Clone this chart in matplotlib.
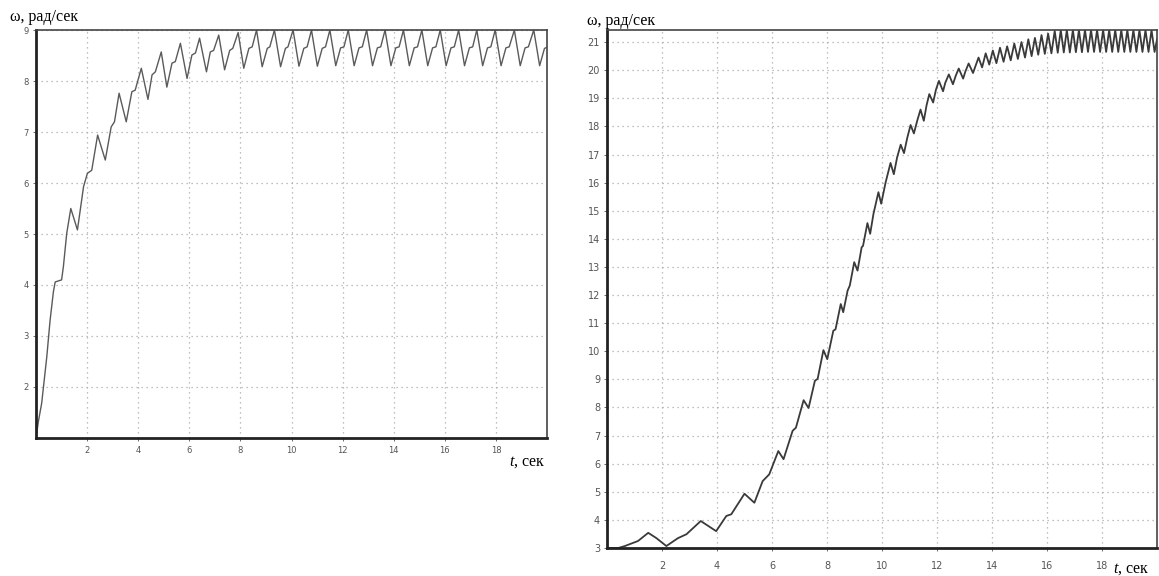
'''plot.py

   Two speed transients, omega(t), scanned-style chart.
'''

import numpy as np
import matplotlib
matplotlib.use('Agg')
import matplotlib.pyplot as plt


plt.rcParams['mathtext.fontset'] = 'custom'
plt.rcParams['mathtext.it'] = 'Liberation Serif:italic'
plt.rcParams['mathtext.rm'] = 'Liberation Serif'


#
#  Data.
#
# Left chart: start-up transient, then steady ripple.
t_left = [0.0, 0.09, 0.22, 0.42, 0.55, 0.68, 0.75, 1.0, 1.07, 1.2,
          1.36, 1.62, 1.86, 2.01, 2.18, 2.41, 2.71, 2.94, 3.07, 3.25,
          3.53, 3.75, 3.88, 4.12, 4.38, 4.54, 4.67, 4.9, 5.12, 5.32,
          5.45, 5.65, 5.91, 6.1, 6.24, 6.4, 6.67, 6.82, 6.95, 7.15,
          7.38, 7.58, 7.7, 7.91, 8.13, 8.33, 8.46, 8.63, 8.85, 9.05,
          9.15, 9.33, 9.57, 9.76, 9.86, 10.06, 10.29, 10.48, 10.61, 10.78,
          11.01, 11.2, 11.33, 11.5, 11.73, 11.92, 12.05, 12.22, 12.45, 12.64,
          12.77, 12.94, 13.17, 13.36, 13.49, 13.66, 13.89, 14.08, 14.21, 14.38,
          14.61, 14.8, 14.93, 15.1, 15.33, 15.52, 15.65, 15.82, 16.05, 16.24,
          16.37, 16.54, 16.77, 16.96, 17.09, 17.25, 17.48, 17.67, 17.8, 17.97,
          18.2, 18.39, 18.52, 18.72, 18.95, 19.14, 19.27, 19.48, 19.71, 19.9,
          20.0]
w_left = [1.0, 1.32, 1.68, 2.59, 3.31, 3.87, 4.06, 4.1, 4.36, 5.01,
          5.5, 5.08, 5.93, 6.19, 6.25, 6.94, 6.45, 7.1, 7.2, 7.76,
          7.2, 7.79, 7.82, 8.25, 7.64, 8.12, 8.18, 8.57, 7.88, 8.35,
          8.38, 8.74, 8.05, 8.51, 8.55, 8.84, 8.18, 8.57, 8.6, 8.9,
          8.22, 8.6, 8.64, 8.95, 8.25, 8.64, 8.67, 9.0, 8.28, 8.64,
          8.67, 9.0, 8.28, 8.64, 8.67, 9.0, 8.29, 8.64, 8.67, 9.0,
          8.29, 8.64, 8.67, 9.0, 8.3, 8.65, 8.67, 9.0, 8.3, 8.65,
          8.67, 9.0, 8.3, 8.65, 8.67, 9.0, 8.3, 8.65, 8.67, 9.0,
          8.3, 8.65, 8.67, 9.0, 8.3, 8.65, 8.67, 9.0, 8.3, 8.65,
          8.67, 9.0, 8.3, 8.65, 8.67, 9.0, 8.3, 8.65, 8.67, 9.0,
          8.3, 8.65, 8.67, 9.0, 8.3, 8.65, 8.67, 9.0, 8.3, 8.64,
          8.66]

# Right chart: slow run-up with ripple getting faster.
t_right = [0.0, 0.41, 0.65, 1.13, 1.5, 1.8, 2.16, 2.58, 2.89, 3.41,
           3.97, 4.34, 4.52, 5.0, 5.36, 5.66, 5.9, 6.23, 6.42, 6.75,
           6.87, 7.15, 7.33, 7.56, 7.66, 7.87, 8.01, 8.23, 8.31, 8.5,
           8.59, 8.75, 8.83, 8.99, 9.11, 9.26, 9.31, 9.47, 9.57, 9.69,
           9.87, 9.97, 10.13, 10.31, 10.43, 10.55, 10.68, 10.8, 10.92, 11.04,
           11.16, 11.28, 11.4, 11.52, 11.62, 11.72, 11.86, 11.96, 12.07, 12.22,
           12.3, 12.43, 12.58, 12.68, 12.79, 12.95, 13.03, 13.15, 13.31, 13.4,
           13.51, 13.64, 13.77, 13.9, 14.03, 14.16, 14.29, 14.42, 14.55, 14.68,
           14.81, 14.94, 15.07, 15.2, 15.32, 15.44, 15.56, 15.68, 15.8, 15.92,
           16.04, 16.16, 16.28, 16.39, 16.5, 16.61, 16.72, 16.83, 16.94, 17.05,
           17.16, 17.27, 17.38, 17.49, 17.6, 17.71, 17.82, 17.93, 18.04, 18.15,
           18.26, 18.37, 18.48, 18.59, 18.7, 18.81, 18.92, 19.03, 19.14, 19.25,
           19.36, 19.47, 19.58, 19.69, 19.8, 19.91, 20.0]
w_right = [3.0, 3.0, 3.07, 3.25, 3.54, 3.35, 3.07, 3.35, 3.49, 3.96,
           3.6, 4.14, 4.2, 4.93, 4.61, 5.38, 5.62, 6.45, 6.16, 7.17,
           7.28, 8.26, 7.98, 8.95, 9.02, 10.04, 9.72, 10.73, 10.78, 11.68,
           11.39, 12.16, 12.34, 13.17, 12.87, 13.7, 13.75, 14.56, 14.18, 14.89,
           15.66, 15.25, 16.0, 16.7, 16.3, 16.9, 17.35, 17.05, 17.6, 18.05,
           17.75, 18.2, 18.6, 18.2, 18.75, 19.15, 18.85, 19.3, 19.62, 19.25,
           19.55, 19.85, 19.5, 19.8, 20.06, 19.7, 19.95, 20.24, 19.9, 20.15,
           20.45, 20.1, 20.6, 20.2, 20.7, 20.25, 20.8, 20.3, 20.85, 20.35,
           20.95, 20.4, 21.0, 20.45, 21.1, 20.5, 21.15, 20.55, 21.25, 20.58,
           21.3, 20.6, 21.4, 20.62, 21.43, 20.63, 21.43, 20.63, 21.43, 20.64,
           21.43, 20.64, 21.43, 20.65, 21.43, 20.65, 21.43, 20.65, 21.43, 20.65,
           21.43, 20.65, 21.43, 20.65, 21.43, 20.65, 21.43, 20.65, 21.43, 20.65,
           21.43, 20.65, 21.43, 20.65, 21.43, 20.65, 21.1]

xticks = [2, 4, 6, 8, 10, 12, 14, 16, 18]
yticks_left = [2, 3, 4, 5, 6, 7, 8, 9]
yticks_right = list(range(3, 22))


#
#  Plot.
#
fig = plt.figure(figsize=(11.59, 5.76), dpi=100)
ax1 = fig.add_axes([0.0311, 0.2396, 0.4409, 0.7083])
ax2 = fig.add_axes([0.5237, 0.0486, 0.4746, 0.8993])

ax1.plot(t_left, w_left, color='#5a5a5a', lw=1.0)
ax2.plot(t_right, w_right, color='#3a3a3a', lw=1.3)

ax1.set_xlim(0, 20)
ax1.set_ylim(1, 9)
ax2.set_xlim(0, 20)
ax2.set_ylim(3, 21.43)

for ax, yt, fs, xpad in ((ax1, yticks_left, 6, 4), (ax2, yticks_right, 7, 7)):
    ax.set_xticks(xticks)
    ax.set_yticks(yt)
    ax.tick_params(axis='both', length=2, width=0.6, colors='#555555',
                   labelsize=fs, labelcolor='#555555')
    ax.tick_params(axis='x', pad=xpad)
    ax.tick_params(axis='y', pad=3)
    ax.grid(True, color='#aaaaaa', linestyle=(0, (1, 3)), linewidth=0.9)
    ax.spines['left'].set_linewidth(2.0)
    ax.spines['bottom'].set_linewidth(2.0)
    ax.spines['left'].set_color('#222222')
    ax.spines['bottom'].set_color('#222222')
    ax.spines['top'].set_linewidth(1.2)
    ax.spines['top'].set_color('#444444')
    ax.spines['right'].set_linewidth(1.2)
    ax.spines['right'].set_color('#444444')

ax1.text(-0.05, 1.032, 'ω, рад/сек', transform=ax1.transAxes,
         family='Liberation Serif', fontsize=11.5, ha='left', va='center')
ax1.text(0.925, -0.06, r'$t$, сек', transform=ax1.transAxes,
         family='Liberation Serif', fontsize=11.5, ha='left', va='center')
ax2.text(-0.037, 1.018, 'ω, рад/сек', transform=ax2.transAxes,
         family='Liberation Serif', fontsize=11.5, ha='left', va='center')
ax2.text(0.92, -0.04, r'$t$, сек', transform=ax2.transAxes,
         family='Liberation Serif', fontsize=11.5, ha='left', va='center')

fig.savefig('out.png', dpi=100)
